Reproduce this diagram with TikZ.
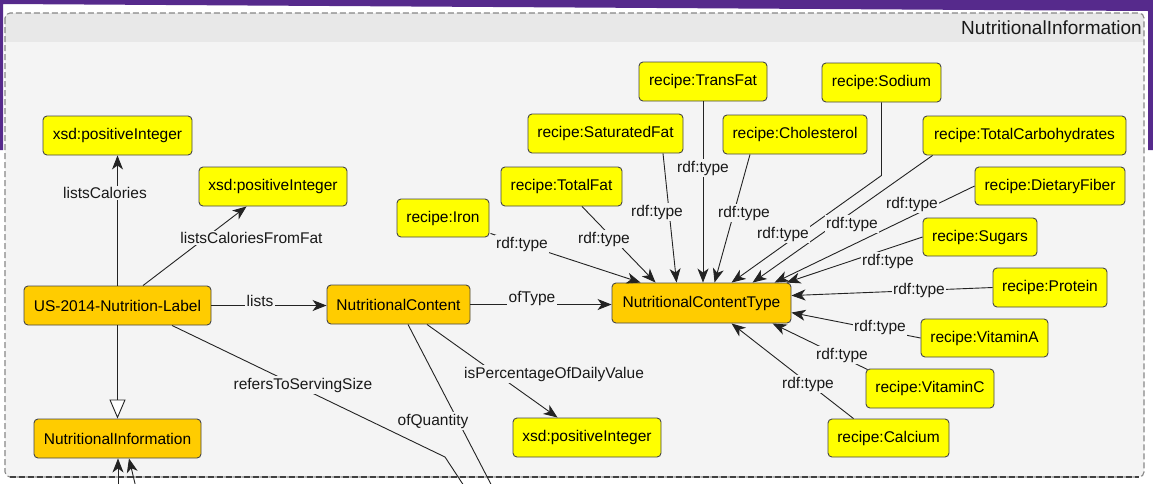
\documentclass[tikz,border=0pt]{standalone}
\usepackage{fontspec}
\setmainfont{Liberation Sans}
\usetikzlibrary{arrows.meta,calc}

\definecolor{frame}{RGB}{86,42,140}
\definecolor{bodybg}{RGB}{244,244,244}
\definecolor{headbg}{RGB}{232,232,232}
\definecolor{classfill}{RGB}{255,204,0}
\definecolor{litfill}{RGB}{255,255,0}
\definecolor{edgecol}{RGB}{35,35,35}
\definecolor{boxline}{RGB}{70,70,70}
\definecolor{dashgray}{RGB}{135,135,135}

\tikzset{
  base/.style={draw=boxline, line width=0.9pt, rounded corners=4pt,
    font=\fontsize{15.5}{18}\selectfont, inner sep=0pt, text=black},
  cls/.style={base, fill=classfill},
  lit/.style={base, fill=litfill},
  lbl/.style={font=\fontsize{15.5}{18}\selectfont, fill=bodybg, inner sep=1.5pt, text=black!90},
  rel/.style={draw=edgecol, line width=0.9pt,
    -{Stealth[length=14pt,width=11pt,inset=4pt]}},
  plain/.style={draw=edgecol, line width=0.9pt},
  isa/.style={draw=edgecol, line width=0.9pt,
    -{Triangle[open, length=19pt, width=16pt, fill=white]}},
}

\begin{document}
\begin{tikzpicture}[x=1pt,y=-1pt]
\useasboundingbox (0,0) rectangle (1153,483);
\fill[white] (0,0) rectangle (1153,483);
% slide frame
\fill[frame] (0,0) -- (1153,0) -- (1153,150) -- (1148,150) -- (1148,11)
  -- (3,4) -- (3,150) -- (0,150) -- cycle;

% group container
\fill[bodybg, rounded corners=5pt] (5,13) rectangle (1144,477);
\begin{scope}
  \clip[rounded corners=5pt] (5,13) rectangle (1144,477);
  \fill[headbg] (5,13) rectangle (1144,42);
\end{scope}
\draw[dashgray, line width=1.1pt, dash pattern=on 6pt off 3pt, rounded corners=5pt]
  (5,13) rectangle (1144,477);
\draw[black!75, line width=1.1pt, dash pattern=on 6pt off 3pt] (10,477) -- (1139,477);
\node[anchor=east, font=\fontsize{19}{22}\selectfont, text=black!90, inner sep=0pt]
  (title) at (1142,28) {NutritionalInformation};

% nodes
\node[lit, minimum width=149, minimum height=39] (xsdA) at (117.5,135.5) {xsd:positiveInteger};
\node[lit, minimum width=148, minimum height=39] (xsdB) at (273,186.5) {xsd:positiveInteger};
\node[cls, minimum width=187, minimum height=39] (us) at (117.5,305.5) {US-2014-Nutrition-Label};
\node[cls, minimum width=167, minimum height=39] (ni) at (117.5,438.5) {NutritionalInformation};
\node[cls, minimum width=143, minimum height=39] (nc) at (398.5,304.5) {NutritionalContent};
\node[cls, minimum width=179, minimum height=40] (nct) at (701.5,303) {NutritionalContentType};
\node[lit, minimum width=148, minimum height=39] (xsdC) at (587,437.5) {xsd:positiveInteger};
\node[lit, minimum width=128, minimum height=39] (transfat) at (703,81.5) {recipe:TransFat};
\node[lit, minimum width=155, minimum height=39] (satfat) at (605.5,133.5) {recipe:SaturatedFat};
\node[lit, minimum width=121, minimum height=39] (totalfat) at (561.5,186.5) {recipe:TotalFat};
\node[lit, minimum width=92, minimum height=38] (iron) at (443,218) {recipe:Iron};
\node[lit, minimum width=144, minimum height=39] (chol) at (795,134.5) {recipe:Cholesterol};
\node[lit, minimum width=119, minimum height=39] (sodium) at (881.5,82.5) {recipe:Sodium};
\node[lit, minimum width=203, minimum height=39] (carbs) at (1024.5,135.5) {recipe:TotalCarbohydrates};
\node[lit, minimum width=150, minimum height=38] (fiber) at (1050,186) {recipe:DietaryFiber};
\node[lit, minimum width=114, minimum height=38] (sugars) at (980,237) {recipe:Sugars};
\node[lit, minimum width=114, minimum height=39] (protein) at (1050,287.5) {recipe:Protein};
\node[lit, minimum width=127, minimum height=38] (vita) at (984.5,338) {recipe:VitaminA};
\node[lit, minimum width=128, minimum height=39] (vitc) at (930,388.5) {recipe:VitaminC};
\node[lit, minimum width=121, minimum height=38] (calcium) at (888.5,438) {recipe:Calcium};

% loose ends leaving the group
\coordinate (servingEnd) at (468,492);
\coordinate (servingBend) at (445,457);
\coordinate (quantityEnd) at (495,492);
\coordinate (inA) at (118,492);
\coordinate (inB) at (137,492);

% properties of the label
\draw[rel] (us.north) -- (xsdA.south);
\draw[rel] ($(us.north)+(25.5,0)$) -- ($(xsdB.south west)+(48,0)$);
\draw[rel] (us.east) -- (us.east -| nc.west);
\draw[isa] (us.south) -- (ni.north);
\draw[plain] ($(us.south)+(54.5,0)$) -- (servingBend) -- (servingEnd);
\draw[rel] (inA) -- ($(ni.south)+(0.5,0)$);
\draw[rel] (inB) -- ($(ni.south)+(11.5,0)$);

% properties of the content
\draw[rel] (nc.east) -- (nc.east -| nct.west);
\draw[rel] ($(nc.south)+(28.5,0)$) -- ($(xsdC.north west)+(45,0)$);
\draw[plain] ($(nc.south)+(9.5,0)$) -- (quantityEnd);

% instances typed as NutritionalContentType
\draw[rel] ($(iron.south east)+(1,-4)$) -- ($(nct.north west)+(29,0)$);
\draw[rel] ($(totalfat.south)+(20.5,0)$) -- ($(nct.north west)+(44,0)$);
\draw[rel] ($(satfat.south)+(57.5,0)$) -- ($(nct.north west)+(65,0)$);
\draw[rel] (transfat.south) -- (transfat.south |- nct.north);
\draw[rel] ($(chol.south)+(-45,0)$) -- ($(nct.north west)+(103,0)$);
\draw[rel] (sodium.south) -- ++(0,73) -- ($(nct.north west)+(120,0)$);
\draw[rel] ($(carbs.south west)+(10,0)$) -- ($(nct.north west)+(141,0)$);
\draw[rel] (fiber.west) -- ($(nct.north west)+(163,0)$);
\draw[rel] (sugars.west) -- ($(nct.north west)+(175,0)$);
\draw[rel] (protein.west) -- ($(nct.north east)+(0,13)$);
\draw[rel] (vita.west) -- ($(nct.north east)+(0,30)$);
\draw[rel] ($(vitc.north west)+(2,1)$) -- ($(nct.south west)+(161,0)$);
\draw[rel] ($(calcium.north)+(-35,0)$) -- ($(nct.south west)+(120,0)$);

% edge labels
\node[lbl] (lCal) at (105,193) {listsCalories};
\node[lbl] (lFat) at (251.5,238) {listsCaloriesFromFat};
\node[lbl] (lLists) at (260,301) {lists};
\node[lbl] (lServ) at (303,385) {refersToServingSize};
\node[lbl] (lType) at (532,298) {ofType};
\node[lbl] (lPct) at (554,374) {isPercentageOfDailyValue};
\node[lbl] (lQty) at (433,421) {ofQuantity};
\node[lbl] (tIron) at (522,244) {rdf:type};
\node[lbl] (tTotalFat) at (604,239) {rdf:type};
\node[lbl] (tSatFat) at (657,212) {rdf:type};
\node[lbl] (tTransFat) at (703,168) {rdf:type};
\node[lbl] (tChol) at (744,213) {rdf:type};
\node[lbl] (tSodium) at (783,234) {rdf:type};
\node[lbl] (tCarbs) at (852,224) {rdf:type};
\node[lbl] (tFiber) at (912,204) {rdf:type};
\node[lbl] (tSugars) at (888,261) {rdf:type};
\node[lbl] (tProtein) at (919,290) {rdf:type};
\node[lbl] (tVitA) at (880,327) {rdf:type};
\node[lbl] (tVitC) at (842,355) {rdf:type};
\node[lbl] (tCalcium) at (808,384) {rdf:type};
\end{tikzpicture}
\end{document}
